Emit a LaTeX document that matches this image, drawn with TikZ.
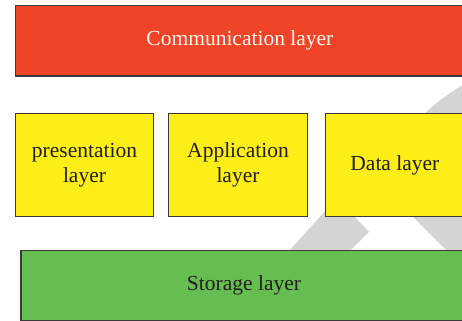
\documentclass[tikz,border=0pt]{standalone}
\usepackage{fontspec}
\setmainfont{Liberation Serif}

\definecolor{commred}{HTML}{EF4427}
\definecolor{commtext}{HTML}{FFF6EC}
\definecolor{midyellow}{HTML}{FCEE16}
\definecolor{storegreen}{HTML}{66BD50}
\definecolor{markgray}{HTML}{D4D4D4}
\definecolor{boxline}{HTML}{3A3A3A}
\definecolor{textdark}{HTML}{231F20}

\begin{document}
\begin{tikzpicture}[x=0.5pt,y=0.5pt,
  layer/.style={draw=boxline,line width=0.6pt,align=center,inner sep=0pt,
    font=\fontsize{10.75}{12.5}\selectfont,text=textdark},
  wide/.style={layer,minimum width=224pt,minimum height=35.2pt},
  mid/.style={layer,fill=midyellow,minimum height=51.7pt}]
  \def\Wm{69.3pt} % width of the middle boxes
  \def\Ym{156}    % centre height of the middle row

  % ================= frame =================
  \clip (0,0) rectangle (462,321);
  \fill[white] (0,0) rectangle (462,321);

  % ================= grey mark behind the layers =================
  \fill[markgray] (281,61) -- (289,70) -- (337,123) -- (369,89) -- (341,61) -- cycle;
  \fill[markgray] (456,61) -- (413,104) -- (400,161) -- (425,208)
    .. controls (435,217) and (448,228) .. (470,240) -- (470,61) -- cycle;

  % ================= layers =================
  \node[wide,fill=commred,text=commtext] (comm) at (239.9,280.2) {Communication layer};

  \node[mid,minimum width=\Wm] (pres) at (84.5,\Ym) {presentation\\layer};
  \node[mid,minimum width=\Wm] (app) at (238,\Ym) {Application\\layer};
  \node[mid,minimum width=\Wm] (data) at (394.9,\Ym) {Data layer};

  \node[wide,fill=storegreen,minimum width=223pt] (store) at (244,35.3) {Storage layer};
\end{tikzpicture}
\end{document}
